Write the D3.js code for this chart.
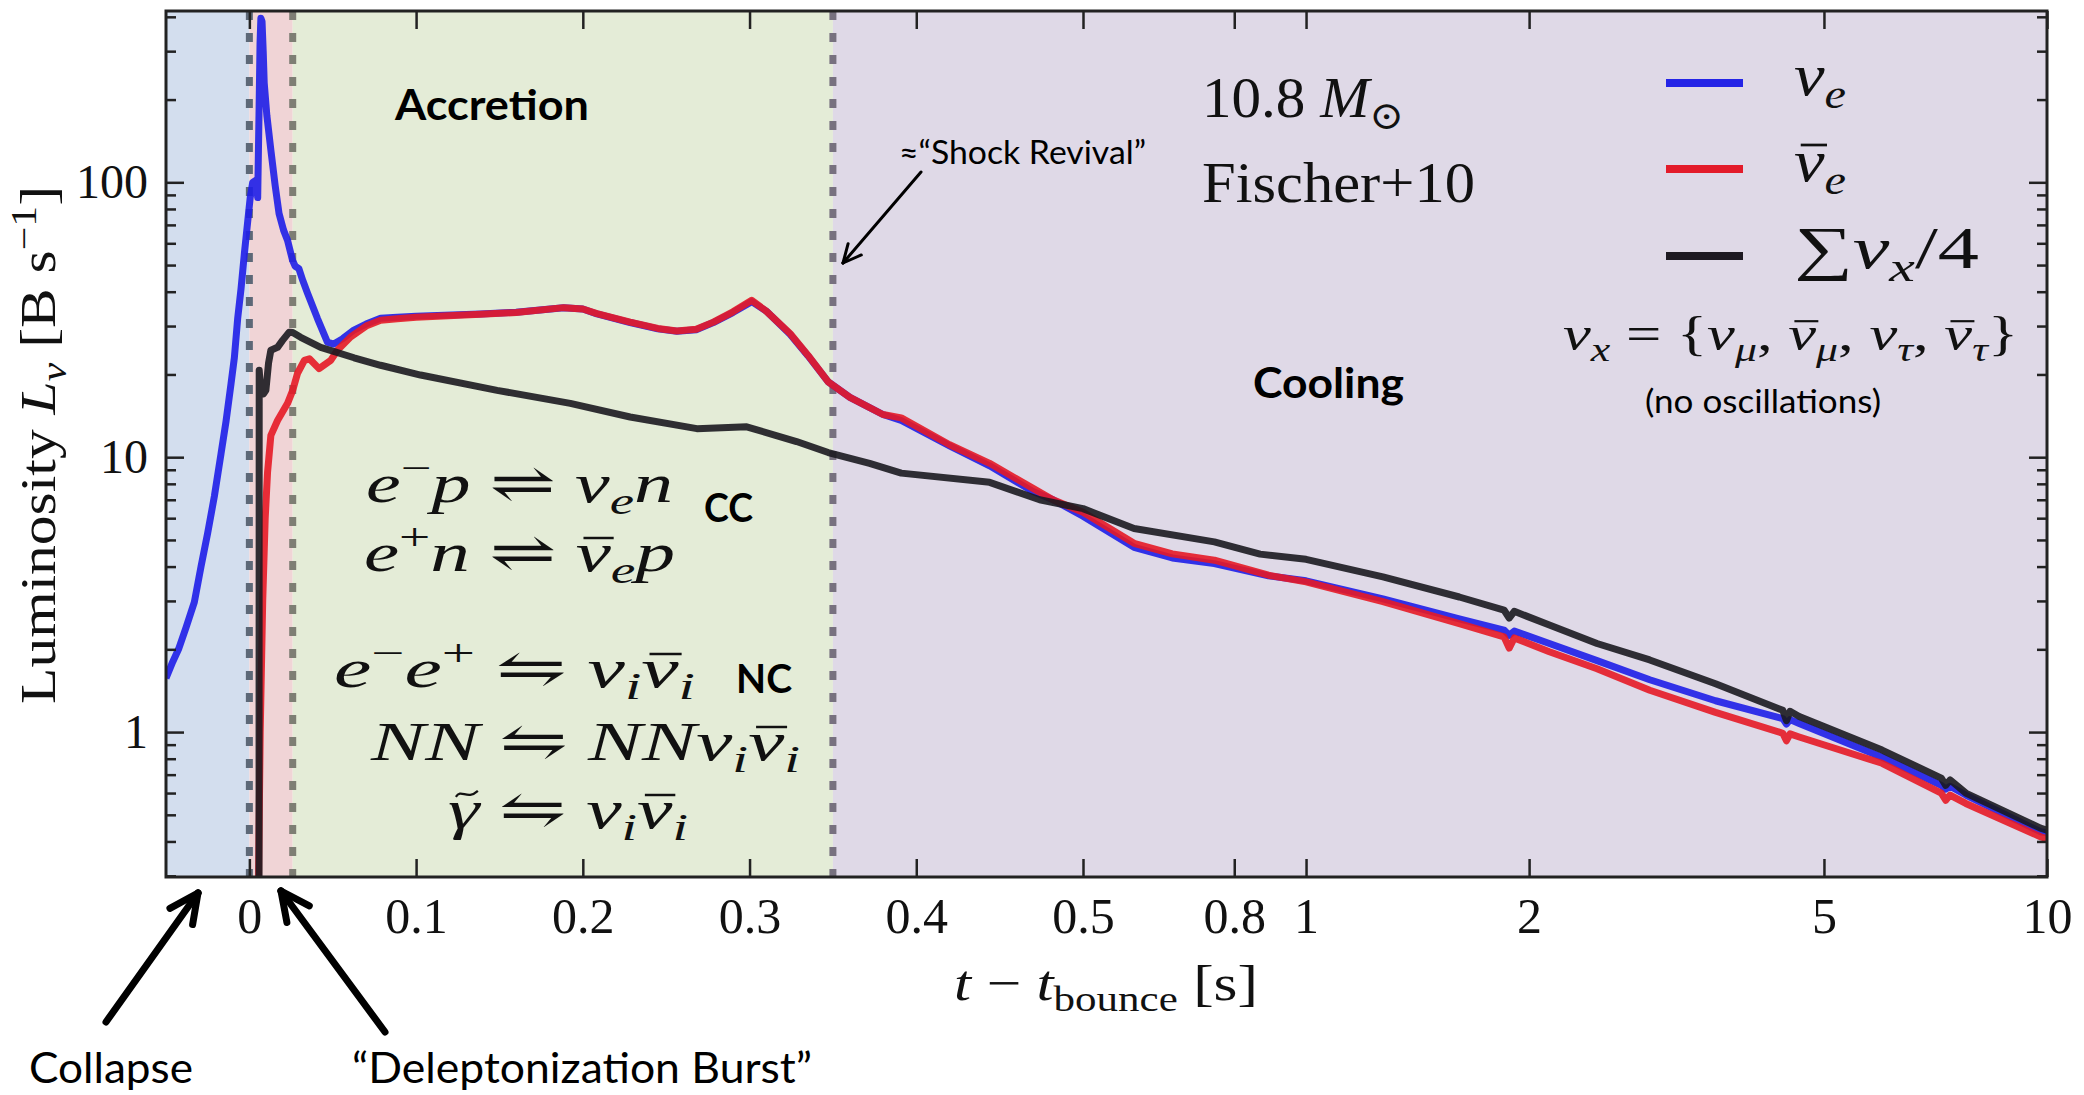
<html>
<head>
  <script src="https://d3js.org/d3.v7.min.js"></script>
  <style>
    body { margin: 0; background: #fff; }
    .axis .domain { display: none; }
    .axis line { stroke: #222; stroke-width: 2.5; }
    .axis text { font-family: "Liberation Serif", serif; fill: #111; }
  </style>
</head>
<body>
<svg id="chart" width="2084" height="1095"></svg>
<script>
  // luminosity curves: [t - t_bounce (s), L (B/s)]
  const nuE = [[-0.05,1.57],[-0.046,1.8],[-0.0425,2.0],[-0.038,2.4],[-0.033,2.97],[-0.029,4.0],[-0.025,5.3],
    [-0.021,7.2],[-0.017,10.3],[-0.014,13.5],[-0.011,18.5],[-0.009,23],[-0.007,32],[-0.005,41],[-0.003,55],
    [-0.001,72],[0.0005,88],[0.002,100],[0.0042,102],[0.005,88],[0.0058,180],[0.0064,320],[0.0069,395],
    [0.0076,385],[0.0083,300],[0.0089,230],[0.0105,175],[0.0129,131],[0.0155,97],[0.0178,77],[0.0205,67],
    [0.0229,61.5],[0.0259,52],[0.0275,49.5],[0.0297,48.5],[0.032,44],[0.0349,39.5],[0.0408,32],[0.0468,26.2],
    [0.0506,25.8],[0.056,27],[0.0627,29],[0.07,30.5],[0.0787,32],[0.0887,32.3],[0.1,32.6],[0.1386,33.2],
    [0.16,33.7],[0.1885,35.0],[0.2,34.6],[0.2085,33.2],[0.2284,30.9],[0.245,29.3],[0.2564,28.7],[0.268,29.1],
    [0.2783,30.9],[0.29,33.6],[0.3013,36.8],[0.31,34],[0.3243,28.0],[0.335,23.4],[0.3472,18.8],[0.3602,16.5],
    [0.38,14.3],[0.391,13.6],[0.42,11.0],[0.444,9.3],[0.47,7.5],[0.482,7.0],[0.5,6.1],[0.586,4.7],[0.66,4.3],
    [0.752,4.1],[0.89,3.7],[1.0,3.55],[1.27,3.05],[1.61,2.58],[1.85,2.35],[1.88,2.25],[1.91,2.33],[2.13,2.10],
    [2.47,1.82],[2.91,1.55],[3.57,1.30],[4.4,1.12],[4.45,1.07],[4.5,1.11],[4.63,1.075],[5.99,0.81],[7.2,0.64],
    [7.3,0.62],[7.4,0.635],[7.77,0.59],[9.8,0.434],[10,0.43]];

  const nuEbar = [[0.0055,0.29],[0.0065,1.0],[0.008,3.0],[0.0095,6.0],[0.0109,8.8],[0.0129,12.0],[0.0169,13.6],
    [0.0229,15.7],[0.026,17.5],[0.0289,20.2],[0.033,22.5],[0.036,22.8],[0.0418,21.0],[0.0488,22.5],[0.0528,24.5],
    [0.0608,27.4],[0.07,30],[0.0787,31.5],[0.0887,31.9],[0.1,32.3],[0.1386,33.1],[0.16,33.6],[0.1885,35.0],
    [0.2,34.6],[0.2085,33.3],[0.2284,31.0],[0.245,29.4],[0.2564,28.8],[0.268,29.2],[0.2783,31.0],[0.29,33.8],
    [0.3013,37.2],[0.31,34],[0.3243,28.2],[0.335,23.5],[0.3472,18.8],[0.3602,16.5],[0.38,14.3],[0.391,13.9],
    [0.42,11.1],[0.444,9.5],[0.47,7.7],[0.482,7.0],[0.5,6.3],[0.586,4.86],[0.66,4.45],[0.752,4.22],[0.89,3.72],
    [1.0,3.52],[1.27,2.98],[1.61,2.48],[1.85,2.22],[1.88,2.02],[1.91,2.2],[2.13,1.96],[2.47,1.70],[2.91,1.42],
    [3.57,1.18],[4.4,0.99],[4.45,0.93],[4.5,0.985],[4.63,0.96],[5.99,0.77],[7.2,0.6],[7.3,0.565],[7.4,0.59],
    [7.77,0.55],[9.8,0.416],[10,0.41]];

  const nuX = [[0.0058,0.29],[0.0059,20.7],[0.0069,17.1],[0.0085,17.0],[0.0099,17.5],[0.0115,22],[0.0129,24.5],
    [0.0169,25.1],[0.0199,26.6],[0.0239,28.5],[0.026,28.4],[0.0308,27.3],[0.0428,25.1],[0.0628,23.0],[0.0787,21.6],
    [0.1027,19.9],[0.1486,17.5],[0.1925,15.7],[0.2284,14.0],[0.2684,12.7],[0.2983,12.9],[0.3282,11.4],
    [0.3472,10.4],[0.372,9.5],[0.391,8.75],[0.444,8.1],[0.474,7.0],[0.5,6.5],[0.586,5.5],[0.752,4.92],
    [0.867,4.44],[1.0,4.25],[1.27,3.67],[1.61,3.1],[1.85,2.78],[1.88,2.6],[1.91,2.75],[2.13,2.45],[2.47,2.10],
    [2.91,1.83],[3.57,1.50],[4.4,1.2],[4.45,1.1],[4.5,1.19],[4.63,1.14],[5.99,0.86],[7.2,0.68],[7.3,0.64],
    [7.4,0.67],[7.77,0.60],[9.8,0.447],[10,0.44]];

  const phaseEdges = [-0.05, 0, 0.026, 0.35, 10];
  const xTicksLinear = [0, 0.1, 0.2, 0.3, 0.4, 0.5];
  const xTicksLog = [0.8, 1, 2, 5, 10];
  const yTicks = [1, 10, 100];
  const yMinorTicks = [0.3, 0.4, 0.5, 0.6, 0.7, 0.8, 0.9, 2, 3, 4, 5, 6, 7, 8, 9,
    20, 30, 40, 50, 60, 70, 80, 90, 200, 300, 400];

  const serif = "'Liberation Serif', 'DejaVu Serif', serif";
  const sans = "Lato, 'Open Sans', sans-serif";
  const plot = { left: 166, right: 2047, top: 11, bottom: 877 };
  const tBreak = 0.5;

  // linear up to 0.5 s, logarithmic after
  const xLin = d3.scaleLinear().domain([phaseEdges[0], tBreak]).range([plot.left, 1083]);
  const xLog = d3.scaleLog().domain([tBreak, 10]).range([1083, plot.right]);
  const x = t => t <= tBreak ? xLin(t) : xLog(t);
  const y = d3.scaleLog().domain([0.297, 420]).range([plot.bottom, plot.top]);

  const svg = d3.select("svg#chart");
  const defs = svg.append("defs");
  defs.append("clipPath").attr("id", "clip").append("rect")
    .attr("x", plot.left).attr("y", plot.top)
    .attr("width", plot.right - plot.left).attr("height", plot.bottom - plot.top);

  // phase bands
  const bandColors = ["#d3deee", "#f0d4d6", "#e4ecd7", "#dfd9e7"];
  svg.append("g").selectAll("rect").data(d3.range(4)).join("rect")
    .attr("x", i => x(phaseEdges[i]))
    .attr("width", i => x(phaseEdges[i + 1]) - x(phaseEdges[i]))
    .attr("y", plot.top).attr("height", plot.bottom - plot.top)
    .attr("fill", i => bandColors[i]);

  // phase boundaries
  const dashColors = ["#5d6877", "#7e7e74", "#77717f"];
  svg.append("g").selectAll("line").data(phaseEdges.slice(1, 4)).join("line")
    .attr("x1", d => x(d)).attr("x2", d => x(d))
    .attr("y1", plot.top).attr("y2", plot.bottom)
    .attr("stroke", (d, i) => dashColors[i])
    .attr("stroke-width", 7).attr("stroke-dasharray", "9,13");

  // curves
  const line = d3.line().x(d => x(d[0])).y(d => y(d[1]));
  const curves = svg.append("g").attr("clip-path", "url(#clip)");
  [[nuE, "#1e1ee8"], [nuEbar, "#e51a26"], [nuX, "#1b1a20"]].forEach(([data, color]) => {
    curves.append("path").datum(data).attr("d", line)
      .attr("fill", "none").attr("stroke", color).attr("stroke-width", 7)
      .attr("stroke-opacity", 0.9).attr("stroke-linejoin", "round");
  });

  // axes
  const tickFmt = d => String(d);
  svg.append("g").attr("class", "axis").attr("transform", `translate(0,${plot.bottom})`)
    .call(d3.axisBottom(xLin).tickValues(xTicksLinear).tickSize(-18).tickPadding(20).tickFormat(tickFmt))
    .selectAll("text").attr("font-size", 50);
  svg.append("g").attr("class", "axis").attr("transform", `translate(0,${plot.bottom})`)
    .call(d3.axisBottom(xLog).tickValues(xTicksLog).tickSize(-18).tickPadding(20).tickFormat(tickFmt))
    .selectAll("text").attr("font-size", 50);
  svg.append("g").attr("class", "axis").attr("transform", `translate(0,${plot.top})`)
    .call(d3.axisTop(xLin).tickValues(xTicksLinear).tickSize(-18).tickFormat(""));
  svg.append("g").attr("class", "axis").attr("transform", `translate(0,${plot.top})`)
    .call(d3.axisTop(xLog).tickValues(xTicksLog).tickSize(-18).tickFormat(""));

  svg.append("g").attr("class", "axis").attr("transform", `translate(${plot.left},0)`)
    .call(d3.axisLeft(y).tickValues(yTicks).tickSize(-18).tickPadding(18).tickFormat(tickFmt))
    .selectAll("text").attr("font-size", 48);
  svg.append("g").attr("class", "axis").attr("transform", `translate(${plot.left},0)`)
    .call(d3.axisLeft(y).tickValues(yMinorTicks).tickSize(-10).tickFormat(""));
  svg.append("g").attr("class", "axis").attr("transform", `translate(${plot.right},0)`)
    .call(d3.axisRight(y).tickValues(yTicks).tickSize(-18).tickFormat(""));
  svg.append("g").attr("class", "axis").attr("transform", `translate(${plot.right},0)`)
    .call(d3.axisRight(y).tickValues(yMinorTicks).tickSize(-10).tickFormat(""));

  svg.append("rect").attr("x", plot.left).attr("y", plot.top)
    .attr("width", plot.right - plot.left).attr("height", plot.bottom - plot.top)
    .attr("fill", "none").attr("stroke", "#222").attr("stroke-width", 3);

  // math-ish text: parts are [string, flags]
  // i = italic, ^ = superscript, _ = subscript, b = overbar, t = tilde accent
  function mathText(sel, px, py, size, parts, anchor, len) {
    const t = sel.append("text").attr("x", px).attr("y", py)
      .attr("font-family", serif).attr("font-size", size).attr("fill", "#111")
      .attr("text-anchor", anchor || "start");
    let shift = 0;
    const accents = [];
    parts.forEach(([str, f]) => {
      const target = f.includes("^") ? -0.38 * size : f.includes("_") ? 0.22 * size : 0;
      const sp = t.append("tspan").attr("dy", target - shift).text(str);
      shift = target;
      if (f.includes("i")) sp.attr("font-style", "italic");
      if (target !== 0) sp.attr("font-size", size * 0.7);
      if (f.includes("b") || f.includes("t")) accents.push([sp.node(), f]);
    });
    if (len) t.attr("textLength", len).attr("lengthAdjust", "spacingAndGlyphs");
    accents.forEach(([node, f]) => {
      const s = node.getStartPositionOfChar(0);
      const e = node.getEndPositionOfChar(0);
      const w = e.x - s.x;
      if (f.includes("b")) {
        sel.append("line")
          .attr("x1", s.x + 0.22 * w).attr("x2", e.x + 0.08 * w)
          .attr("y1", s.y - 0.6 * size).attr("y2", s.y - 0.6 * size)
          .attr("stroke", "#111").attr("stroke-width", size * 0.045);
      } else {
        const cx = s.x + 0.6 * w, cy = s.y - 0.62 * size, hw = 0.2 * size;
        sel.append("path")
          .attr("d", `M${cx - hw},${cy + 3} C${cx - hw * 0.5},${cy - 6} ${cx},${cy + 7} ${cx + hw},${cy - 3}`)
          .attr("fill", "none").attr("stroke", "#111").attr("stroke-width", size * 0.04);
      }
    });
    return t;
  }
  function sansText(px, py, str, size, weight, len, anchor) {
    const t = svg.append("text").attr("x", px).attr("y", py).text(str)
      .attr("font-family", sans).attr("font-size", size).attr("font-weight", weight)
      .attr("text-anchor", anchor || "start").attr("fill", "#000");
    if (len) t.attr("textLength", len).attr("lengthAdjust", "spacingAndGlyphs");
    return t;
  }

  // axis titles
  mathText(svg.append("g").attr("transform", "translate(55,445) rotate(-90)"), 0, 0, 50,
    [["Luminosity ", ""], ["L", "i"], ["ν", "i_"], [" [B s", ""], ["−1", "^"], ["]", ""]], "middle", 518);
  mathText(svg, 954, 1000, 50,
    [["t", "i"], [" − ", ""], ["t", "i"], ["bounce", "_"], [" [s]", ""]], "start", 304);

  // reactions
  const eq = svg.append("g");
  mathText(eq, 366, 502, 55, [["e", "i"], ["−", "^"], ["p", "i"], [" ⇌ ", ""], ["ν", "i"], ["e", "i_"], ["n", "i"]], "start", 307);
  mathText(eq, 364, 571, 55, [["e", "i"], ["+", "^"], ["n", "i"], [" ⇌ ", ""], ["ν", "ib"], ["e", "i_"], ["p", "i"]], "start", 311);
  mathText(eq, 334, 687, 55, [["e", "i"], ["−", "^"], ["e", "i"], ["+", "^"], [" ⇋ ", ""], ["ν", "i"], ["i", "i_"], ["ν", "ib"], ["i", "i_"]], "start", 361);
  mathText(eq, 371, 760, 55, [["NN", "i"], [" ⇋ ", ""], ["NN", "i"], ["ν", "i"], ["i", "i_"], ["ν", "ib"], ["i", "i_"]], "start", 429);
  mathText(eq, 448, 828, 55, [["γ", "it"], [" ⇋ ", ""], ["ν", "i"], ["i", "i_"], ["ν", "ib"], ["i", "i_"]], "start", 240);

  sansText(492, 120, "Accretion", 42, 700, 194, "middle");
  sansText(1253, 398, "Cooling", 42, 700, 151);
  sansText(704, 522, "CC", 40, 700, 49);
  sansText(736, 693, "NC", 40, 700, 56);
  sansText(899, 164, "≈“Shock Revival”", 32, 400, 247);
  sansText(1645, 413, "(no oscillations)", 32, 400, 236);
  sansText(29, 1083, "Collapse", 42, 400, 164);
  sansText(352, 1083, "“Deleptonization Burst”", 42, 400, 460);

  // model + legend
  mathText(svg, 1202, 117, 56, [["10.8 ", ""], ["M", "i"], ["⊙", "_"]], "start", 202);
  mathText(svg, 1202, 202, 56, [["Fischer+10", ""]], "start", 273);

  const legend = [["#2424e6", [["ν", "i"], ["e", "i_"]], 83, 52],
    ["#e31b2a", [["ν", "ib"], ["e", "i_"]], 169, 52],
    ["#1e1a22", [["∑", ""], ["ν", "i"], ["x", "i_"], ["/4", ""]], 256, 185]];
  legend.forEach(([color, label, ly, len]) => {
    svg.append("line").attr("x1", 1666).attr("x2", 1743).attr("y1", ly).attr("y2", ly)
      .attr("stroke", color).attr("stroke-width", 8);
    mathText(svg, 1794, ly + 12, 60, label, "start", len);
  });
  mathText(svg, 1563, 350, 48, [["ν", "i"], ["x", "i_"], [" = {", ""], ["ν", "i"], ["μ", "i_"], [", ", ""],
    ["ν", "ib"], ["μ", "i_"], [", ", ""], ["ν", "i"], ["τ", "i_"], [", ", ""], ["ν", "ib"], ["τ", "i_"], ["}", ""]], "start", 455);

  // arrows
  function arrow(x1, y1, x2, y2, width, head) {
    const a = Math.atan2(y2 - y1, x2 - x1);
    const g = svg.append("g").attr("stroke", "#000").attr("stroke-width", width)
      .attr("stroke-linecap", "round").attr("fill", "none");
    g.append("line").attr("x1", x1).attr("y1", y1).attr("x2", x2).attr("y2", y2);
    [0.45, -0.45].forEach(da => {
      g.append("line").attr("x1", x2).attr("y1", y2)
        .attr("x2", x2 - head * Math.cos(a + da)).attr("y2", y2 - head * Math.sin(a + da));
    });
  }
  arrow(106, 1022, 198, 893, 7, 32);
  arrow(385, 1032, 281, 891, 7, 32);
  arrow(921, 172, 843, 263, 3, 20);
</script>
</body>
</html>
